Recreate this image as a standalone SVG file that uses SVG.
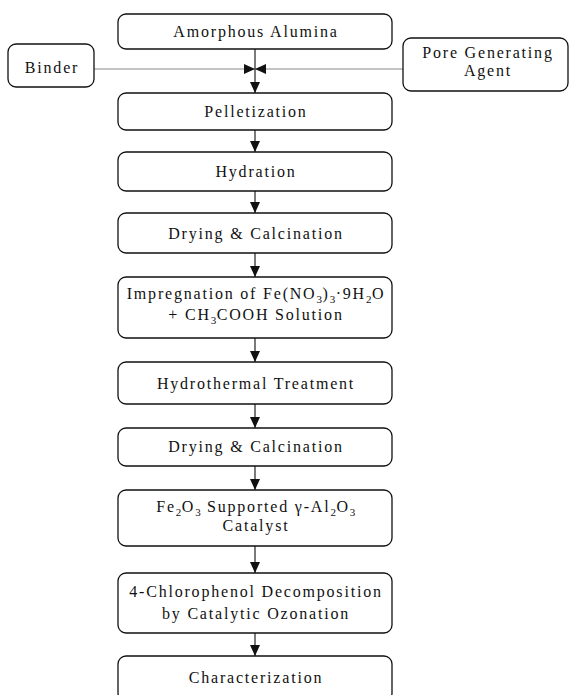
<svg xmlns="http://www.w3.org/2000/svg" width="569" height="695" viewBox="0 0 569 695">
<style>
  .box { fill: #ffffff; stroke: #111; stroke-width: 1.3; }
  .t { font-family: "Liberation Serif", "Times New Roman", serif; font-size: 16px; letter-spacing: 1.8px; fill: #111; text-anchor: middle; }
  .sub { font-size: 11px; letter-spacing: 0.5px; }
  .v { stroke: #222; stroke-width: 1.2; fill: none; marker-end: url(#ah); }
  .h { stroke: #888; stroke-width: 1; fill: none; marker-end: url(#ah); }
</style>
<defs>
  <marker id="ah" viewBox="0 0 11 10" refX="11" refY="5" markerWidth="11" markerHeight="10" orient="auto" markerUnits="userSpaceOnUse">
    <path d="M0,0 L11,5 L0,10 z" fill="#111"/>
  </marker>
</defs>
<rect width="569" height="695" fill="#ffffff"/>

<g id="connectors">
  <line class="h" x1="94" y1="69" x2="255" y2="69"/>
  <line class="h" x1="403" y1="69" x2="255" y2="69"/>
  <line class="v" x1="255" y1="49" x2="255" y2="93"/>
  <line class="v" x1="255" y1="130" x2="255" y2="152"/>
  <line class="v" x1="255" y1="191" x2="255" y2="213"/>
  <line class="v" x1="255" y1="253" x2="255" y2="277"/>
  <line class="v" x1="255" y1="338" x2="255" y2="362"/>
  <line class="v" x1="255" y1="404" x2="255" y2="428"/>
  <line class="v" x1="255" y1="466" x2="255" y2="490"/>
  <line class="v" x1="255" y1="546" x2="255" y2="573"/>
  <line class="v" x1="255" y1="633" x2="255" y2="656"/>
</g>

<g id="amorphous-alumina">
  <rect class="box" x="118" y="14" width="274" height="35" rx="8"/>
  <text class="t" x="256" y="37">Amorphous Alumina</text>
</g>
<g id="binder">
  <rect class="box" x="8" y="44" width="86" height="43" rx="8"/>
  <text class="t" x="52" y="73">Binder</text>
</g>
<g id="pore-generating-agent">
  <rect class="box" x="403" y="38" width="165" height="53" rx="8"/>
  <text class="t" x="488" y="58">Pore Generating</text>
  <text class="t" x="488" y="76">Agent</text>
</g>
<g id="pelletization">
  <rect class="box" x="118" y="93" width="274" height="37" rx="8"/>
  <text class="t" x="256" y="117">Pelletization</text>
</g>
<g id="hydration">
  <rect class="box" x="118" y="152" width="274" height="39" rx="8"/>
  <text class="t" x="256" y="177">Hydration</text>
</g>
<g id="drying-calcination-1">
  <rect class="box" x="118" y="213" width="274" height="40" rx="8"/>
  <text class="t" x="256" y="239">Drying &amp; Calcination</text>
</g>
<g id="impregnation">
  <rect class="box" x="118" y="277" width="274" height="61" rx="8"/>
  <text class="t" x="256" y="299">Impregnation of Fe(NO<tspan class="sub" dy="4">3</tspan><tspan dy="-4">)</tspan><tspan class="sub" dy="4">3</tspan><tspan dy="-4">·9H</tspan><tspan class="sub" dy="4">2</tspan><tspan dy="-4">O</tspan></text>
  <text class="t" x="256" y="320">+ CH<tspan class="sub" dy="4">3</tspan><tspan dy="-4">COOH Solution</tspan></text>
</g>
<g id="hydrothermal-treatment">
  <rect class="box" x="118" y="362" width="274" height="42" rx="8"/>
  <text class="t" x="256" y="389">Hydrothermal Treatment</text>
</g>
<g id="drying-calcination-2">
  <rect class="box" x="118" y="428" width="274" height="38" rx="8"/>
  <text class="t" x="256" y="452">Drying &amp; Calcination</text>
</g>
<g id="fe2o3-catalyst">
  <rect class="box" x="118" y="490" width="274" height="56" rx="8"/>
  <text class="t" x="256" y="512">Fe<tspan class="sub" dy="4">2</tspan><tspan dy="-4">O</tspan><tspan class="sub" dy="4">3</tspan><tspan dy="-4"> Supported  γ-Al</tspan><tspan class="sub" dy="4">2</tspan><tspan dy="-4">O</tspan><tspan class="sub" dy="4">3</tspan></text>
  <text class="t" x="256" y="531">Catalyst</text>
</g>
<g id="chlorophenol-decomposition">
  <rect class="box" x="118" y="573" width="274" height="60" rx="8"/>
  <text class="t" x="256" y="597">4-Chlorophenol Decomposition</text>
  <text class="t" x="256" y="619">by Catalytic Ozonation</text>
</g>
<g id="characterization">
  <rect class="box" x="118" y="656" width="274" height="45" rx="8"/>
  <text class="t" x="256" y="683">Characterization</text>
</g>
</svg>
